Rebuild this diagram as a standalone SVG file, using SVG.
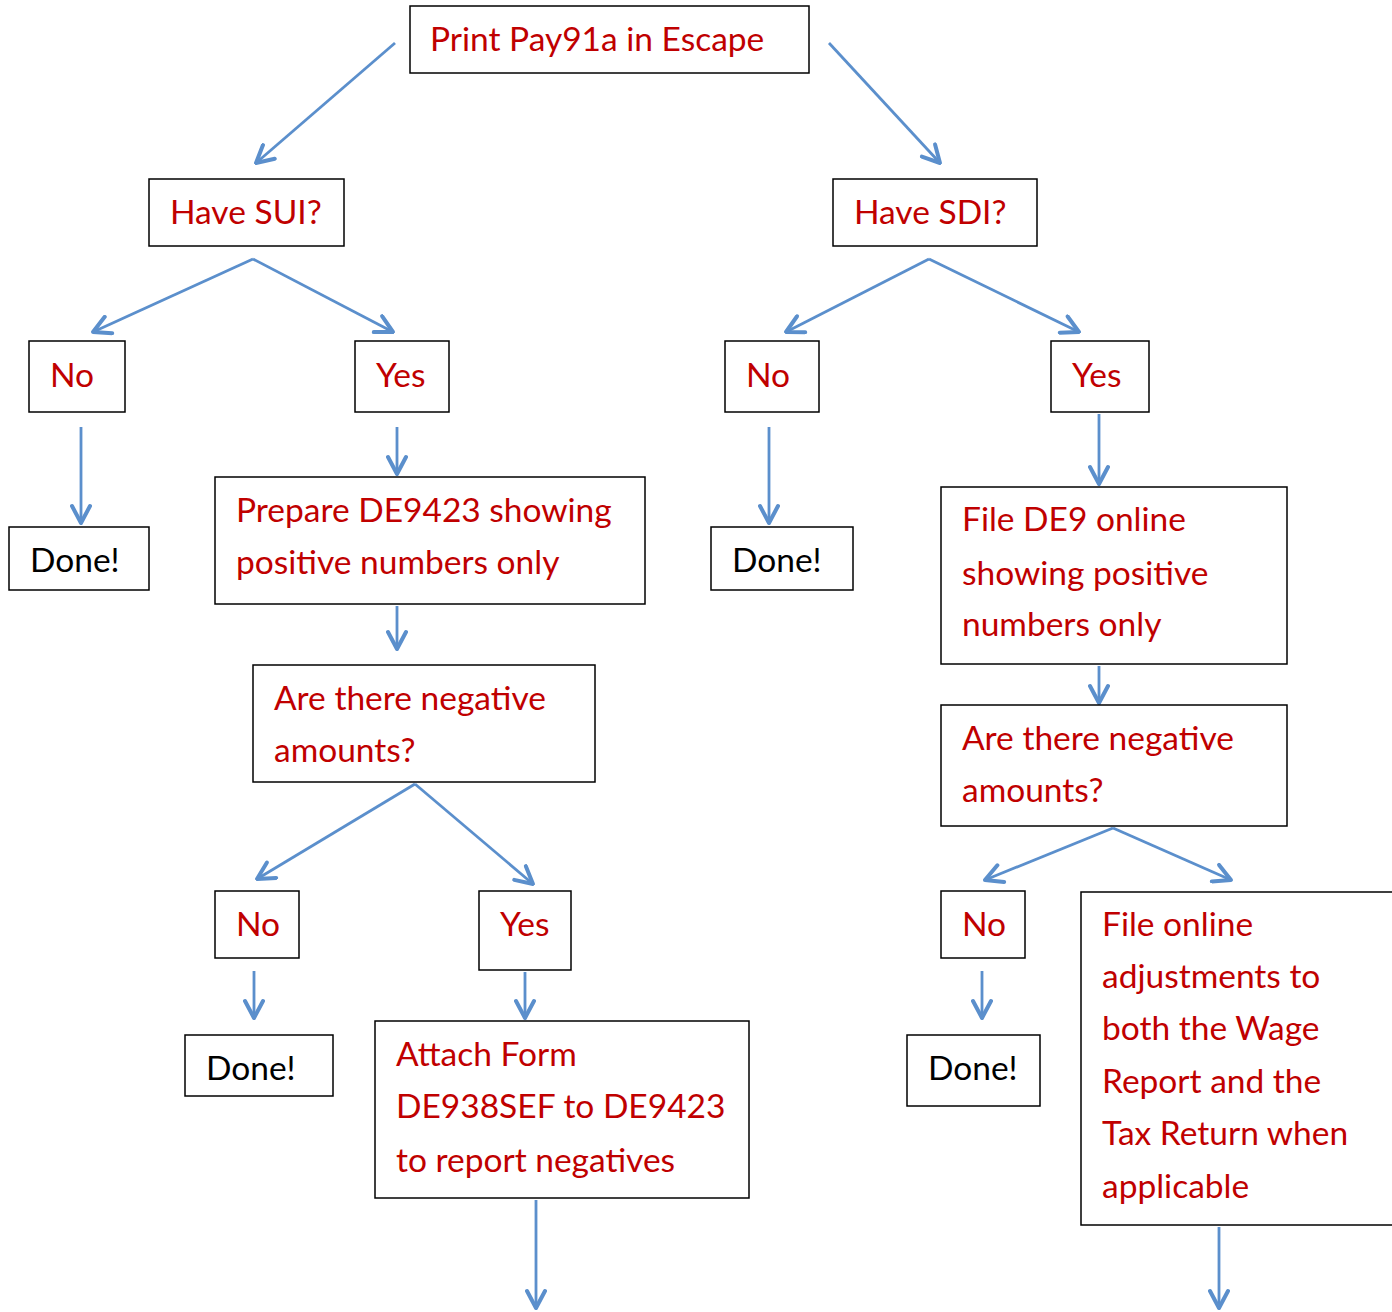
<svg xmlns="http://www.w3.org/2000/svg" width="1392" height="1312" viewBox="0 0 1392 1312">
<defs>
<style>
.box{fill:#fff;stroke:#000;stroke-width:1.5}
.t{font-family:Lato,"Open Sans","Liberation Sans",sans-serif;font-size:33.5px;fill:#C00000}
.d{font-family:Lato,"Open Sans","Liberation Sans",sans-serif;font-size:33.5px;fill:#000}
.c{stroke:#5B8FCC;stroke-width:2.8;fill:none;marker-end:url(#ah)}
</style>
<marker id="ah" viewBox="0 0 22 22" refX="20" refY="11" markerWidth="22" markerHeight="22" markerUnits="userSpaceOnUse" orient="auto">
<path d="M3,2 L20,11 L3,20" fill="none" stroke="#5B8FCC" stroke-width="4" stroke-linecap="round" stroke-linejoin="round"/>
</marker>
</defs>
<rect width="1392" height="1312" fill="#fff"/>
<g id="connectors">
<line class="c" x1="395" y1="43" x2="256" y2="163"/>
<line class="c" x1="829" y1="43" x2="940" y2="163"/>
<line class="c" x1="253" y1="259" x2="93" y2="332"/>
<line class="c" x1="253" y1="259" x2="393" y2="332"/>
<line class="c" x1="929" y1="259" x2="786" y2="332"/>
<line class="c" x1="929" y1="259" x2="1079" y2="332"/>
<line class="c" x1="81" y1="427" x2="81" y2="523"/>
<line class="c" x1="397" y1="427" x2="397" y2="474"/>
<line class="c" x1="769" y1="427" x2="769" y2="523"/>
<line class="c" x1="1099" y1="414" x2="1099" y2="484"/>
<line class="c" x1="397" y1="606" x2="397" y2="649"/>
<line class="c" x1="1099" y1="666" x2="1099" y2="703"/>
<line class="c" x1="415" y1="784" x2="257" y2="879"/>
<line class="c" x1="415" y1="784" x2="533" y2="884"/>
<line class="c" x1="1113" y1="828" x2="985" y2="880"/>
<line class="c" x1="1113" y1="828" x2="1231" y2="880"/>
<line class="c" x1="254" y1="971" x2="254" y2="1018"/>
<line class="c" x1="525" y1="972" x2="525" y2="1018"/>
<line class="c" x1="982" y1="971" x2="982" y2="1018"/>
<line class="c" x1="536" y1="1200" x2="536" y2="1308"/>
<line class="c" x1="1219" y1="1227" x2="1219" y2="1308"/>
</g>
<g id="print"><rect class="box" x="410" y="6" width="399" height="67"/><text class="t" x="430" y="51">Print Pay91a in Escape</text></g>
<g id="havesui"><rect class="box" x="149" y="179" width="195" height="67"/><text class="t" x="170" y="224">Have SUI?</text></g>
<g id="havesdi"><rect class="box" x="833" y="179" width="204" height="67"/><text class="t" x="854" y="224">Have SDI?</text></g>
<g id="sui-no"><rect class="box" x="29" y="341" width="96" height="71"/><text class="t" x="50" y="387">No</text></g>
<g id="sui-yes"><rect class="box" x="355" y="341" width="94" height="71"/><text class="t" x="376" y="387">Yes</text></g>
<g id="sdi-no"><rect class="box" x="725" y="341" width="94" height="71"/><text class="t" x="746" y="387">No</text></g>
<g id="sdi-yes"><rect class="box" x="1051" y="341" width="98" height="71"/><text class="t" x="1072" y="387">Yes</text></g>
<g id="done1"><rect class="box" x="9" y="527" width="140" height="63"/><text class="d" x="30" y="572">Done!</text></g>
<g id="prepare"><rect class="box" x="215" y="477" width="430" height="127"/><text class="t" x="236" y="522">Prepare DE9423 showing</text><text class="t" x="236" y="574">positive numbers only</text></g>
<g id="done2"><rect class="box" x="711" y="527" width="142" height="63"/><text class="d" x="732" y="572">Done!</text></g>
<g id="filede9"><rect class="box" x="941" y="487" width="346" height="177"/><text class="t" x="962" y="531">File DE9 online</text><text class="t" x="962" y="585">showing positive</text><text class="t" x="962" y="636">numbers only</text></g>
<g id="neg-left"><rect class="box" x="253" y="665" width="342" height="117"/><text class="t" x="274" y="710">Are there negative</text><text class="t" x="274" y="762">amounts?</text></g>
<g id="neg-right"><rect class="box" x="941" y="705" width="346" height="121"/><text class="t" x="962" y="750">Are there negative</text><text class="t" x="962" y="802">amounts?</text></g>
<g id="neg-left-no"><rect class="box" x="215" y="891" width="84" height="67"/><text class="t" x="236" y="936">No</text></g>
<g id="neg-left-yes"><rect class="box" x="479" y="891" width="92" height="79"/><text class="t" x="500" y="936">Yes</text></g>
<g id="neg-right-no"><rect class="box" x="941" y="891" width="84" height="67"/><text class="t" x="962" y="936">No</text></g>
<g id="adjust"><rect class="box" x="1081" y="892" width="330" height="333"/><text class="t" x="1102" y="936">File online</text><text class="t" x="1102" y="988">adjustments to</text><text class="t" x="1102" y="1040">both the Wage</text><text class="t" x="1102" y="1093">Report and the</text><text class="t" x="1102" y="1145">Tax Return when</text><text class="t" x="1102" y="1198">applicable</text></g>
<g id="done3"><rect class="box" x="185" y="1035" width="148" height="61"/><text class="d" x="206" y="1080">Done!</text></g>
<g id="attach"><rect class="box" x="375" y="1021" width="374" height="177"/><text class="t" x="396" y="1066">Attach Form</text><text class="t" x="396" y="1118">DE938SEF to DE9423</text><text class="t" x="396" y="1172">to report negatives</text></g>
<g id="done4"><rect class="box" x="907" y="1035" width="133" height="71"/><text class="d" x="928" y="1080">Done!</text></g>
</svg>
